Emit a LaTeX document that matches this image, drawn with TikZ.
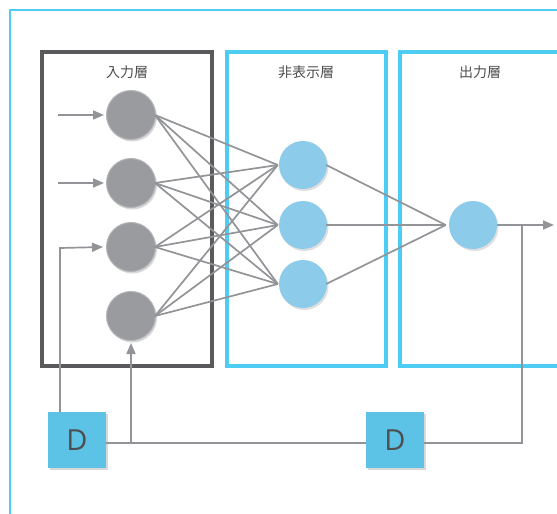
\documentclass[tikz,border=0pt]{standalone}
\usepackage{fontspec}
\newfontfamily\jpfont{Noto Sans CJK JP}
\newfontfamily\dfont{Open Sans}
\usetikzlibrary{arrows.meta,shadows}

\definecolor{frameblue}{HTML}{4DCDF4}
\definecolor{layergray}{HTML}{5A5A5C}
\definecolor{wiregray}{HTML}{939497}
\definecolor{ballgray}{HTML}{9A9B9E}
\definecolor{ballrim}{HTML}{B4B5B8}
\definecolor{ballblue}{HTML}{8DCBEA}
\definecolor{delayblue}{HTML}{5CC2E6}
\definecolor{labelgray}{HTML}{4E4E50}

\tikzset{
  layerbox/.style={line width=4pt},
  layerlabel/.style={font=\jpfont\fontsize{14}{16}\selectfont, text=labelgray},
  inball/.style={circle, minimum size=49pt, inner sep=0pt, fill=ballgray,
    draw=ballrim, line width=1pt,
    drop shadow={shadow xshift=1.5pt, shadow yshift=-2pt, opacity=0.3}},
  hidball/.style={circle, minimum size=48pt, inner sep=0pt, fill=ballblue,
    drop shadow={shadow xshift=1.5pt, shadow yshift=-2pt, opacity=0.25}},
  delaybox/.style={minimum width=58pt, minimum height=56pt, inner sep=0pt,
    fill=delayblue, text=labelgray, font=\dfont\fontsize{29}{31}\selectfont,
    drop shadow={shadow xshift=2pt, shadow yshift=-2pt, opacity=0.3}},
  wire/.style={draw=wiregray, line width=1.7pt},
  arrowwire/.style={wire, -{Triangle[length=11pt,width=9pt]}},
}

\begin{document}
\begin{tikzpicture}[x=1pt,y=-1pt]
  \useasboundingbox (0,0) rectangle (557,514);
  \fill[white] (0,0) rectangle (557,514);

  % outer frame
  \draw[frameblue, line width=2pt] (10,514) -- (10,10) -- (557,10);

  % layer boxes
  \draw[layerbox, draw=layergray] (42,52) rectangle (212,366);
  \draw[layerbox, draw=frameblue] (227,52) rectangle (386,366);
  \draw[layerbox, draw=frameblue] (560,52) -- (400,52) -- (400,366) -- (560,366);

  \node[layerlabel] (lin)  at (127,72) {入力層};
  \node[layerlabel] (lhid) at (306,72) {非表示層};
  \node[layerlabel] (lout) at (480,72) {出力層};

  % input neurons
  \node[inball] (i1) at (131,115) {};
  \node[inball] (i2) at (131,183) {};
  \node[inball] (i3) at (131,247) {};
  \node[inball] (i4) at (131,316) {};

  % hidden neurons
  \node[hidball] (h1) at (303,165) {};
  \node[hidball] (h2) at (303,225) {};
  \node[hidball] (h3) at (303,284) {};

  % output neuron
  \node[hidball] (o1) at (473,225) {};

  % delay units
  \node[delaybox] (d1) at (77,440) {D};
  \node[delaybox] (d2) at (395,440) {D};

  % full connections input -> hidden
  \foreach \a in {i1,i2,i3,i4}
    \foreach \b in {h1,h2,h3}
      \draw[wire] ([xshift=-1pt]\a.east) -- ([xshift=-1pt]\b.west);

  % hidden -> output
  \foreach \b in {h1,h2,h3}
    \draw[wire] ([xshift=-1pt]\b.east) -- ([xshift=-3pt]o1.west);

  % external inputs
  \coordinate (x1) at (58,115);
  \coordinate (x2) at (58,183);
  \draw[arrowwire] (x1) -- ([xshift=-2pt]i1.west);
  \draw[arrowwire] (x2) -- ([xshift=-2pt]i2.west);

  % output and feedback loop
  \coordinate (yout) at (557,225);
  \coordinate (tap) at (522,225);
  \coordinate (tapdown) at (522,443);
  \draw[arrowwire] (o1.east) -- ([xshift=-3pt]yout);
  \draw[wire] (tap) -- (tapdown) -- (d2.east |- tapdown);
  \draw[wire] (d2.west |- tapdown) -- (d1.east |- tapdown);

  % delayed signals back into the context inputs
  \coordinate (d1top) at (60,412);
  \coordinate (c1) at (60,248);
  \draw[arrowwire] (d1top) -- (c1) -- ([xshift=-3pt]i3.west);
  \coordinate (c2) at (131,443);
  \draw[arrowwire] (c2) -- ([yshift=-2pt]i4.south);
\end{tikzpicture}
\end{document}
